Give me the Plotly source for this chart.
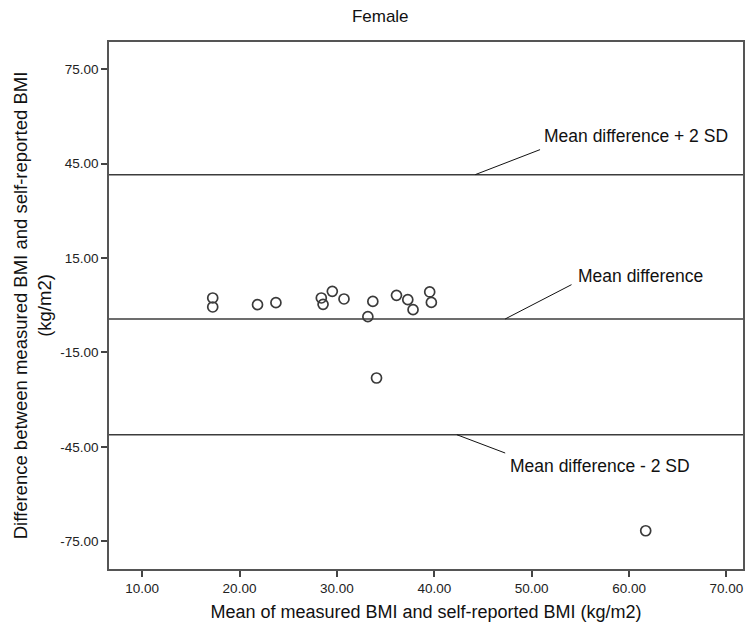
import plotly.graph_objects as go

# Data
mean_bmi = [17.25, 17.25, 21.85, 23.74, 28.40, 28.58, 29.53, 30.73, 33.18, 33.69,
            36.12, 37.28, 37.82, 39.53, 39.70, 34.07, 61.71]
diff_bmi = [2.29, -0.57, 0.16, 0.80, 2.29, 0.26, 4.39, 1.97, -3.65, 1.21,
            3.12, 1.75, -1.43, 4.20, 0.89, -23.13, -71.65]

ref_values = [41.47, -4.38, -41.15]
ref_labels = ["Mean difference + 2 SD", "Mean difference", "Mean difference - 2 SD"]
# connector line endpoints (data coords): start on reference line, end near label
conn_x0 = [44.21, 47.28, 42.32]
conn_x1 = [50.86, 54.09, 47.28]
conn_y1 = [49.41, 6.52, -46.96]
label_x = [51.08, 54.6, 47.6]
label_y = [53.64, 9.15, -51.2]

x_ticks = [10, 20, 30, 40, 50, 60, 70]
y_ticks = [75, 45, 15, -15, -45, -75]

FONT = "Liberation Sans, Arial, sans-serif"
LINE = "#3c3c3c"

fig = go.Figure()
fig.add_trace(go.Scatter(
    x=mean_bmi, y=diff_bmi, mode="markers",
    marker=dict(symbol="circle-open", size=10, color="#3a3a3a", line=dict(width=1.7)),
    showlegend=False,
))

shapes = []
annotations = []
for v, x0, x1, y1, lx, ly, lab in zip(ref_values, conn_x0, conn_x1, conn_y1, label_x, label_y, ref_labels):
    shapes.append(dict(type="line", xref="paper", yref="y", x0=0, x1=1, y0=v, y1=v,
                       line=dict(color=LINE, width=1.5)))
    shapes.append(dict(type="line", xref="x", yref="y", x0=x0, x1=x1, y0=v, y1=y1,
                       line=dict(color="#111111", width=1)))
    annotations.append(dict(x=lx, y=ly, xref="x", yref="y", text=lab, showarrow=False,
                            xanchor="left", yanchor="middle",
                            font=dict(family=FONT, size=17.5, color="#111111")))

fig.update_layout(
    width=747, height=630,
    margin=dict(l=109, r=2, t=42, b=61),
    paper_bgcolor="white", plot_bgcolor="white",
    font=dict(family=FONT, color="#111111"),
    title=dict(text="Female", x=0.509, xref="container", xanchor="center",
               y=1 - 16 / 630, yref="container", yanchor="middle",
               font=dict(family=FONT, size=17, color="#111111")),
    shapes=shapes, annotations=annotations,
    xaxis=dict(range=[6.6, 71.7], tickvals=x_ticks,
               ticktext=[f"{t:.2f}" for t in x_ticks],
               showgrid=False, zeroline=False, showline=True, mirror=True,
               linecolor="#555555", linewidth=1.5,
               ticks="outside", ticklen=6, tickwidth=1.5, tickcolor="#444444",
               tickfont=dict(family=FONT, size=13.5, color="#222222"),
               title=dict(text="Mean of measured BMI and self-reported BMI (kg/m2)",
                          font=dict(family=FONT, size=18, color="#111111"), standoff=10)),
    yaxis=dict(range=[-83.8, 83.6], tickvals=y_ticks,
               ticktext=[f"{t:.2f}" for t in y_ticks],
               showgrid=False, zeroline=False, showline=True, mirror=True,
               linecolor="#555555", linewidth=1.5,
               ticks="outside", ticklen=6, tickwidth=1.5, tickcolor="#444444",
               tickfont=dict(family=FONT, size=13.5, color="#222222"),
               title=dict(text="Difference between measured BMI and self-reported BMI<br>(kg/m2)",
                          font=dict(family=FONT, size=18.5, color="#111111"), standoff=4)),
)

fig.write_html("out.html")
